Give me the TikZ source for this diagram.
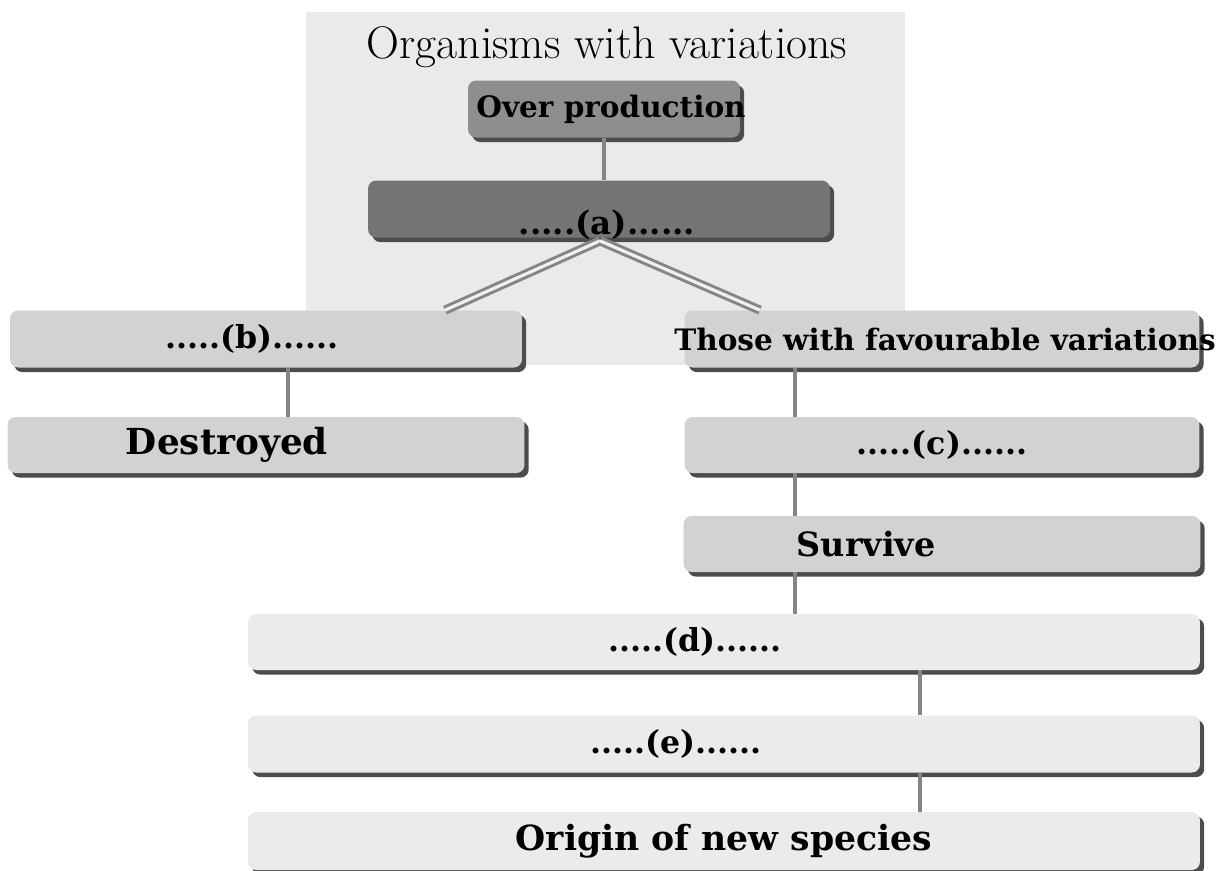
\documentclass[tikz,border=0pt]{standalone}
\usepackage{fontspec}
\usepackage{tikz}
\usetikzlibrary{calc,shadows}
\newfontfamily\boxfont{DejaVu Serif}
\definecolor{PanelGray}{HTML}{EAEAEA}
\definecolor{TopGray}{HTML}{8E8E8E}
\definecolor{DarkGray}{HTML}{747474}
\definecolor{MidGray}{HTML}{D2D2D2}
\definecolor{PaleGray}{HTML}{EBEBEB}
\definecolor{LinkGray}{HTML}{858585}

\begin{document}
\begin{tikzpicture}[
  x=0.02cm, y=-0.02cm,
  every node/.style={font=\boxfont\bfseries},
  box/.style={rounded corners=1.6mm, inner sep=0pt, minimum height=1.14cm,
    drop shadow={shadow xshift=2.4pt, shadow yshift=-2.6pt, fill=black!70, opacity=1}},
  link/.style={LinkGray, line width=2.8pt},
  twin/.style={LinkGray, line width=1.7pt, double=PanelGray!70, double distance=1.8pt}
]
\useasboundingbox (0,0) rectangle (1223,870);
\fill[PanelGray] (306,12) rectangle (905,365);
\node[font=\fontsize{26}{30}\selectfont] (title) at (607,47) {Organisms with variations};

\node[box, fill=TopGray, minimum width=5.44cm, font=\boxfont\bfseries\fontsize{16.8}{19}\selectfont]
  (over) at (604,109) {\makebox[0pt]{\hspace*{0.28cm}Over production}};
\node[box, fill=DarkGray, minimum width=9.24cm, font=\boxfont\bfseries\fontsize{18.5}{21}\selectfont]
  (aa) at (599,209) {\hspace*{0.32cm}\raisebox{-0.5cm}[0pt][0pt]{.....(a)......}};

\node[box, fill=MidGray, minimum width=10.24cm, font=\boxfont\bfseries\fontsize{18}{21}\selectfont]
  (bb) at (266,339) {\hspace*{-0.56cm}.....(b)......};
\node[box, fill=MidGray, minimum width=10.34cm, minimum height=1.12cm, font=\boxfont\bfseries\fontsize{20.4}{24}\selectfont]
  (dest) at (266,445) {\hspace*{-1.56cm}Destroyed};

\node[box, fill=MidGray, minimum width=10.3cm, font=\boxfont\bfseries\fontsize{16.8}{19}\selectfont]
  (those) at (942,339) {\makebox[0pt]{\hspace*{0.12cm}Those with favourable variations}};
\node[box, fill=MidGray, minimum width=10.3cm, minimum height=1.12cm, font=\boxfont\bfseries\fontsize{18}{21}\selectfont]
  (cc) at (942,445) {.....(c)......};
\node[box, fill=MidGray, minimum width=10.34cm, minimum height=1.12cm, font=\boxfont\bfseries\fontsize{19}{22}\selectfont]
  (surv) at (942,544) {\hspace*{-3.04cm}Survive};

\node[box, fill=PaleGray, minimum width=19.04cm, minimum height=1.12cm, font=\boxfont\bfseries\fontsize{18}{21}\selectfont]
  (dd) at (724,642) {\hspace*{-1.16cm}.....(d)......};
\node[box, fill=PaleGray, minimum width=19.04cm, font=\boxfont\bfseries\fontsize{18}{21}\selectfont]
  (ee) at (724,744) {\hspace*{-1.92cm}.....(e)......};
\node[box, fill=PaleGray, minimum width=19.04cm, minimum height=1.16cm, font=\boxfont\bfseries\fontsize{19.7}{23}\selectfont]
  (orig) at (724,841) {Origin of new species};

% connectors
\draw[link] (over.south) -- (over.south |- aa.north);
\draw[twin] ($(aa.south)+(1,3)$) -- ($(bb.north)+(179,0)$);
\draw[twin] ($(aa.south)+(1,3)$) -- ($(those.north)+(-182,0)$);
\draw[link] ($(bb.south)+(22,0)$) -- ($(dest.north)+(22,0)$);
\draw[link] ($(those.south)+(-147,0)$) -- ($(cc.north)+(-147,0)$);
\draw[link] ($(cc.south)+(-147,0)$) -- ($(surv.north)+(-147,0)$);
\draw[link] ($(surv.south)+(-147,0)$) -- ($(dd.north)+(71,0)$);
\draw[link] ($(dd.south)+(196,0)$) -- ($(ee.north)+(196,0)$);
\draw[link] ($(ee.south)+(196,0)$) -- ($(orig.north)+(196,0)$);
\end{tikzpicture}
\end{document}
